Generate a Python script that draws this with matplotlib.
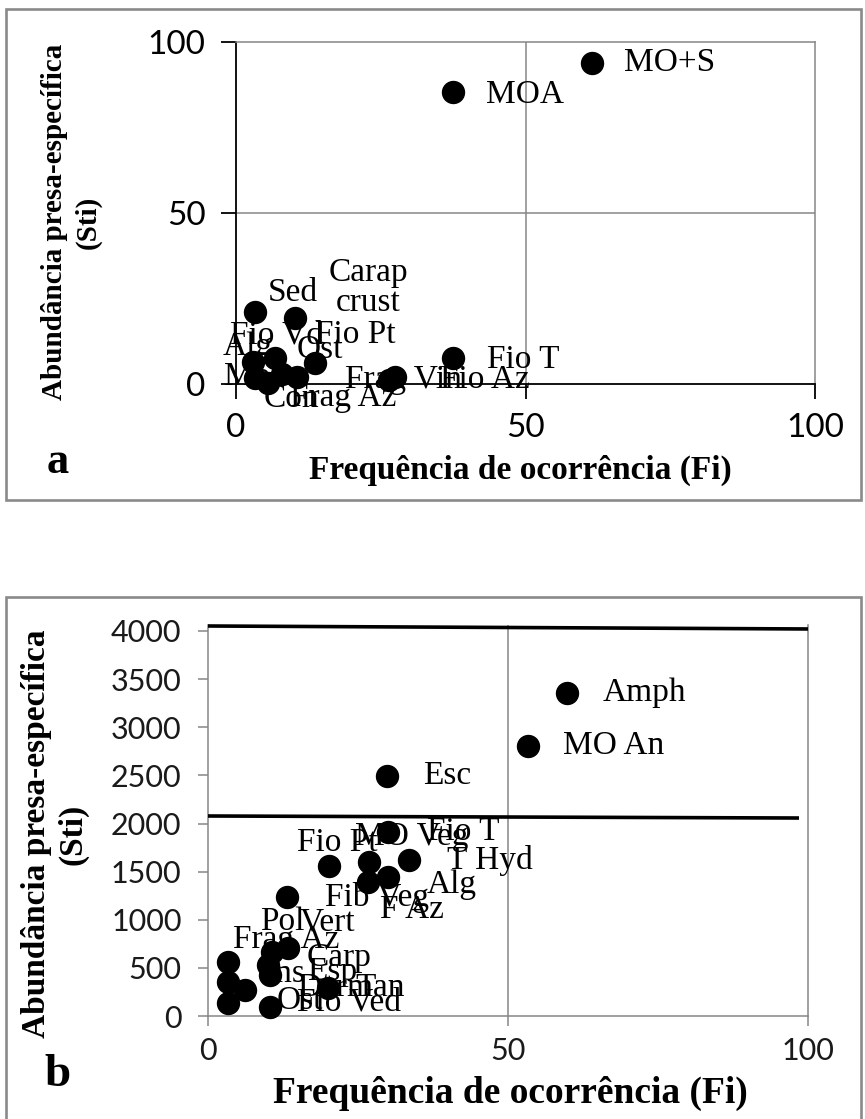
import matplotlib
matplotlib.use("Agg")
import matplotlib.pyplot as plt
from matplotlib.patches import Rectangle

# ---------------- data ----------------
# (a) frequency of occurrence (Fi) vs prey-specific abundance (Sti)
freq_a = [61.5, 37.5, 37.5, 27.5, 26.5, 3.3, 10.2, 2.9, 6.7, 13.6, 3.3, 5.5, 8.0, 10.5]
sti_a = [93.9, 85.4, 7.6, 2.0, 1.2, 21.0, 19.3, 6.4, 7.6, 6.1, 1.8, 0.3, 3.0, 2.0]
labels_a = ["MO+S", "MOA", "Fio T", "Fio Az", "Frag Vin", "Sed", "Carap\ncrust",
            "Fio Vd", "Fio Pt", "Ost", "Alg", "Mol", "Con", "Frag Az"]

# (b)
freq_b = [59.8, 53.3, 29.8, 30.0, 26.8, 20.2, 33.5, 30.0, 26.7, 13.2,
          3.3, 10.7, 13.3, 10.0, 3.3, 10.3, 6.2, 3.3, 10.3, 20.0]
sti_b = [3356, 2805, 2494, 1912, 1600, 1558, 1621, 1444, 1392, 1236,
         560, 660, 705, 530, 350, 425, 270, 130, 95, 290]
labels_b = ["Amph", "MO An", "Esc", "Fio T", "MO Veg", "Fio Pt", "T Hyd", "Alg",
            "F Az", "Fib Veg", "Frag Az", "Pol", "Vert", "Carp", "Ins", "Esp",
            "Derm", "Ost", "Fio Ved", "Tan"]
# reference lines drawn across panel b (start and end values)
line_x = [[0, 100], [0, 98.5]]
line_y = [[4052, 4021], [2078, 2057]]

x_ticks = [0, 50, 100]
y_ticks_a = [0, 50, 100]
y_ticks_b = [0, 500, 1000, 1500, 2000, 2500, 3000, 3500, 4000]

# label placement in pixels (dx to label anchor, dy downward)
offs_a = [(32, 0), (33, 3), (34, 2), (45, 3), (-44, 0), (13, -19), (73, -30),
          (-23, -27), (40, -23), (-18, -13), (-32, -31), (-44, -6), (-19, 25), (-7, 21)]
offs_b = [(36, 0), (35, 0), (36, 0), (39, 0), (-14, -25), (-32, -23), (38, 1),
          (39, 8), (12, 28), (38, 0), (5, -22), (-12, -31), (12, -26), (39, -7),
          (37, -9), (37, -3), (52, -2), (49, -3), (27, -5), (27, 0)]

W, H = 865, 1119
SERIF = "Liberation Serif"
SANS = "Lato"
GRID = "#868686"

fig = plt.figure(figsize=(W / 100, H / 100), dpi=100)


def fx(px):
    return px / W


def fy(py):
    return 1 - py / H


# panel frames
frame_kw = dict(fill=False, edgecolor="#8a8a8a", linewidth=1.9,
                transform=fig.transFigure, figure=fig)
fig.patches.append(Rectangle((fx(6), fy(500)), fx(855), 491 / H, **frame_kw))
fig.patches.append(Rectangle((fx(6), fy(1140)), fx(855), 543 / H, **frame_kw))


def place_labels(ax, xs, ys, labels, offs, size):
    for x, y, lab, (dx, dy) in zip(xs, ys, labels, offs):
        multi = "\n" in lab
        ax.annotate(lab, (x, y), xytext=(dx, -dy), textcoords="offset pixels",
                    ha="center" if multi else "left", va="center",
                    fontsize=size, family=SERIF, color="black",
                    linespacing=1.0, annotation_clip=False, zorder=5)


# ---------------- panel a ----------------
ax1 = fig.add_axes([fx(236), fy(384), fx(815 - 236), (384 - 42) / H])
ax1.set_xlim(0, 100)
ax1.set_ylim(0, 100)
ax1.axvline(50, color=GRID, lw=1.1, zorder=0)
ax1.axhline(50, color=GRID, lw=1.1, zorder=0)
for s in ("top", "right"):
    ax1.spines[s].set_color(GRID)
    ax1.spines[s].set_linewidth(1.1)
for s in ("left", "bottom"):
    ax1.spines[s].set_color("black")
    ax1.spines[s].set_linewidth(1.3)
ax1.set_xticks(x_ticks)
ax1.set_yticks(y_ticks_a)
ax1.tick_params(axis="both", direction="out", length=11, width=1.3, color="black",
                labelsize=24)
ax1.tick_params(axis="y", pad=11)
ax1.tick_params(axis="x", pad=10)
for t in ax1.get_xticklabels() + ax1.get_yticklabels():
    t.set_family(SANS)
ax1.scatter(freq_a, sti_a, s=250, color="black", zorder=4, clip_on=False)
place_labels(ax1, freq_a, sti_a, labels_a, offs_a, 24)

fig.text(fx(71), fy(222), "Abundância presa-específica\n(Sti)", rotation=90,
         ha="center", va="center", multialignment="center", family=SERIF,
         weight="bold", fontsize=21, linespacing=1.3)
fig.text(fx(520), fy(470), "Frequência de ocorrência (Fi)", ha="center", va="center",
         family=SERIF, weight="bold", fontsize=24)
fig.text(fx(58), fy(462), "a", ha="center", va="center", family=SERIF,
         weight="bold", fontsize=32)

# ---------------- panel b ----------------
y_top_b = 4060
ax2 = fig.add_axes([fx(208), fy(1016), fx(808 - 208), y_top_b * 0.09625 / H])
ax2.set_xlim(0, 100)
ax2.set_ylim(0, y_top_b)
ax2.axvline(50, color=GRID, lw=1.1, zorder=0)
ax2.spines["top"].set_visible(False)
for s in ("left", "bottom", "right"):
    ax2.spines[s].set_color(GRID)
    ax2.spines[s].set_linewidth(1.1)
for lx, ly in zip(line_x, line_y):
    ax2.plot(lx, ly, color="black", lw=2.6, solid_capstyle="butt", clip_on=False, zorder=3)
ax2.set_xticks(x_ticks)
ax2.set_yticks(y_ticks_b)
ax2.tick_params(axis="both", direction="out", length=7, width=1.1, color=GRID,
                labelsize=22, labelcolor="#1a1a1a")
ax2.tick_params(axis="y", pad=12)
ax2.tick_params(axis="x", pad=8)
for t in ax2.get_xticklabels() + ax2.get_yticklabels():
    t.set_family(SANS)
ax2.scatter(freq_b, sti_b, s=250, color="black", zorder=4, clip_on=False)
place_labels(ax2, freq_b, sti_b, labels_b, offs_b, 24)

fig.text(fx(55), fy(834), "Abundância presa-específica\n(Sti)", rotation=90,
         ha="center", va="center", multialignment="center", family=SERIF,
         weight="bold", fontsize=24, linespacing=1.2)
fig.text(fx(510), fy(1093), "Frequência de ocorrência (Fi)", ha="center", va="center",
         family=SERIF, weight="bold", fontsize=27)
fig.text(fx(58), fy(1075), "b", ha="center", va="center", family=SERIF,
         weight="bold", fontsize=34)

fig.savefig("out.png", dpi=100)
